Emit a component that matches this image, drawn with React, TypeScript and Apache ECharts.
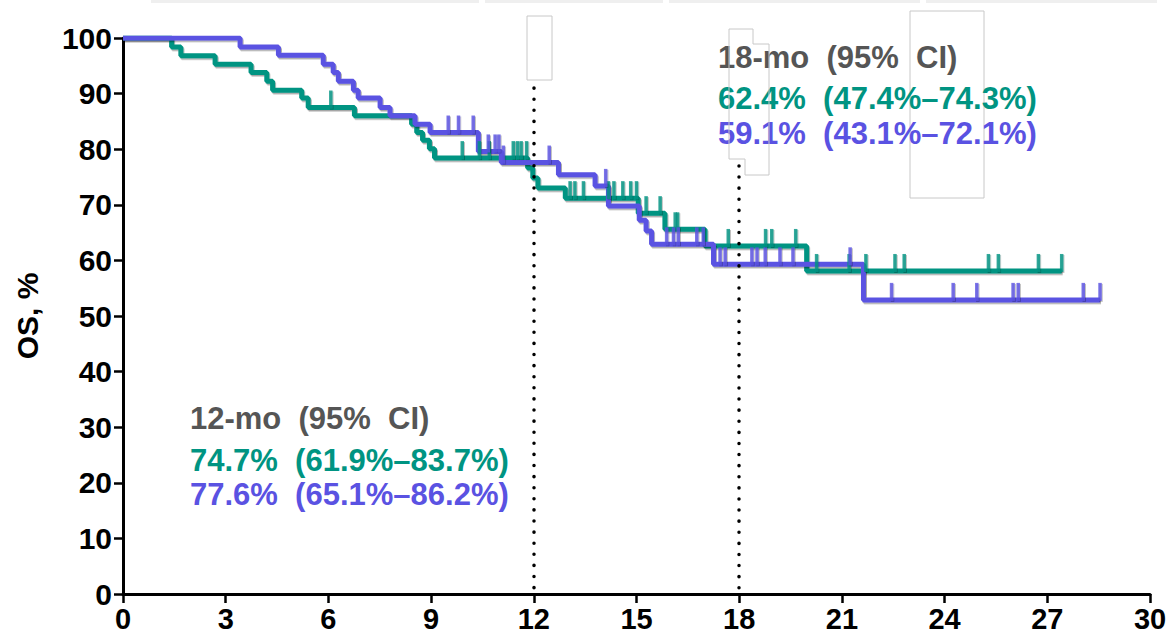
import React, { useEffect, useRef } from "react";
import * as echarts from "echarts";

// Kaplan–Meier steps [month, OS %]
const tealSteps: number[][] = [
  [0, 100], [1.42, 98.4], [1.69, 96.8], [2.69, 95.3], [3.74, 93.8], [4.2, 92.2],
  [4.37, 90.6], [5.22, 89.2], [5.41, 87.5], [6.76, 86.0], [8.43, 84.5], [8.58, 83.0],
  [8.75, 81.6], [8.95, 80.1], [9.1, 78.4], [11.82, 76.6], [11.97, 74.8], [12.12, 73.0],
  [12.92, 71.2], [15.05, 68.5], [15.83, 65.6], [17.0, 62.6], [19.97, 58.1], [27.42, 58.1],
];
const tealCensor: number[] = [
  6.07, 9.91, 10.41, 10.7, 11.4, 11.52, 11.63, 11.79, 13.06, 13.2, 13.45, 14.18, 14.34,
  14.6, 14.83, 15.0, 15.28, 15.69, 16.13, 16.2, 17.68, 18.77, 18.95, 19.65, 20.26, 21.21,
  21.7, 22.55, 22.82, 25.28, 25.57, 26.74, 27.42,
];
const blueSteps: number[][] = [
  [0, 100], [3.42, 98.4], [4.54, 96.9], [5.85, 95.3], [6.14, 93.8], [6.29, 92.2],
  [6.73, 90.6], [6.87, 89.2], [7.51, 87.5], [7.8, 86.0], [8.53, 84.5], [8.97, 83.0],
  [10.38, 79.6], [11.05, 77.6], [12.72, 75.4], [13.79, 73.4], [14.18, 69.8], [15.08, 67.2],
  [15.28, 65.3], [15.44, 62.9], [17.25, 59.3], [21.63, 52.9], [28.54, 52.9],
];
const blueCensor: number[] = [
  9.5, 9.8, 10.23, 10.67, 10.87, 10.98, 11.11, 12.45, 14.1, 15.88, 16.08, 16.22, 16.76,
  16.95, 17.44, 17.59, 18.37, 18.52, 18.76, 19.19, 19.57, 21.24, 22.45, 24.25, 24.94,
  26.0, 26.15, 28.05, 28.54,
];
const xTicks = [0, 30, 3];
const yTicks = [0, 100, 10];
const landmarks = [
  { month: 12, top: 91 },
  { month: 18, top: 77 },
];
const annot12 = ["12-mo  (95%  CI)", "74.7%  (61.9%–83.7%)", "77.6%  (65.1%–86.2%)"];
const annot18 = ["18-mo  (95%  CI)", "62.4%  (47.4%–74.3%)", "59.1%  (43.1%–72.1%)"];

const TEAL = "#009482";
const BLUE = "#5a52e2";
const GRAY = "#555555";
const FONT = "'Liberation Sans', Arial, sans-serif";

function survAt(steps: number[][], t: number): number {
  let v = steps[0][1];
  for (const [x, y] of steps) {
    if (x <= t) v = y;
  }
  return v;
}

export default function App() {
  const ref = useRef<HTMLDivElement>(null);
  useEffect(() => {
    const chart = echarts.init(ref.current!, null, { renderer: "svg" });
    const textBlock = (lines: string[], x: number, ys: number[]) =>
      lines.map((s, i) => ({
        type: "text",
        x,
        y: ys[i],
        style: {
          text: s,
          fill: i === 0 ? GRAY : i === 1 ? TEAL : BLUE,
          font: `bold 31px ${FONT}`,
          textVerticalAlign: "middle",
        },
        z: 10,
      }));
    const censorSeries = (name: string, steps: number[][], cens: number[], color: string) => ({
      type: "scatter",
      name,
      data: cens.map((t) => [t, survAt(steps, t)]),
      symbol: "rect",
      symbolSize: [3.5, 18],
      symbolOffset: [0, -8],
      itemStyle: { color, shadowColor: "rgba(0,0,0,0.3)", shadowOffsetX: 1, shadowOffsetY: 1 },
      z: 4,
      silent: true,
    });
    const lineStyle = (color: string) => ({
      color,
      width: 5,
      shadowColor: "rgba(0,0,0,0.35)",
      shadowOffsetX: 1,
      shadowOffsetY: 1.5,
      shadowBlur: 0,
    });
    chart.setOption({
      animation: false,
      grid: { left: 123, right: 20, top: 38, bottom: 48 },
      xAxis: {
        type: "value",
        min: xTicks[0],
        max: xTicks[1],
        interval: xTicks[2],
        axisLine: { lineStyle: { color: "#000", width: 3 } },
        axisTick: { length: 9, lineStyle: { color: "#000", width: 2.5 } },
        axisLabel: { color: "#000", fontSize: 29, fontWeight: "bold", fontFamily: FONT, margin: 10 },
        splitLine: { show: false },
      },
      yAxis: {
        type: "value",
        min: yTicks[0],
        max: yTicks[1],
        interval: yTicks[2],
        name: "OS, %",
        nameLocation: "middle",
        nameGap: 81,
        nameTextStyle: { color: "#000", fontSize: 30, fontWeight: "bold", fontFamily: FONT },
        axisLine: { show: true, lineStyle: { color: "#000", width: 3 } },
        axisTick: { show: true, length: 9, lineStyle: { color: "#000", width: 2.5 } },
        axisLabel: { color: "#000", fontSize: 30, fontWeight: "bold", fontFamily: FONT, margin: 11 },
        splitLine: { show: false },
      },
      series: [
        {
          type: "line",
          name: "teal",
          data: tealSteps,
          step: "end",
          showSymbol: false,
          lineStyle: lineStyle(TEAL),
          z: 3,
          markLine: {
            silent: true,
            symbol: "none",
            label: { show: false },
            lineStyle: { color: "#000", width: 3.5, type: [0.1, 11], cap: "round", shadowBlur: 0, shadowColor: "transparent" },
            data: landmarks.map((l) => [
              { coord: [l.month, l.top] },
              { coord: [l.month, 0] },
            ]),
          },
        },
        {
          type: "line",
          name: "blue",
          data: blueSteps,
          step: "end",
          showSymbol: false,
          lineStyle: lineStyle(BLUE),
          z: 3,
        },
        censorSeries("tealC", tealSteps, tealCensor, TEAL),
        censorSeries("blueC", blueSteps, blueCensor, BLUE),
      ],
      graphic: [
        { type: "rect", shape: { x: 151, y: 0, width: 328, height: 3 }, style: { fill: "#efefef" } },
        { type: "rect", shape: { x: 485, y: 0, width: 178, height: 3 }, style: { fill: "#efefef" } },
        { type: "rect", shape: { x: 669, y: 0, width: 251, height: 3 }, style: { fill: "#efefef" } },
        { type: "rect", shape: { x: 926, y: 0, width: 231, height: 3 }, style: { fill: "#efefef" } },
        { type: "rect", shape: { x: 527, y: 16, width: 25, height: 64 }, style: { fill: "none", stroke: "#c8c8c8", lineWidth: 1 } },
        {
          type: "polygon",
          shape: { points: [[729, 29], [753, 29], [753, 44], [769, 44], [769, 175], [745, 175], [745, 159], [729, 159]] },
          style: { fill: "none", stroke: "#c8c8c8", lineWidth: 1 },
          z: 11,
        },
        { type: "rect", shape: { x: 910, y: 11, width: 74, height: 187 }, style: { fill: "none", stroke: "#c8c8c8", lineWidth: 1 } },
        ...textBlock(annot12, 190, [418, 460, 494]),
        ...textBlock(annot18, 718, [57, 98, 133]),
      ],
    });
    return () => chart.dispose();
  }, []);
  return (
    <div
      ref={ref}
      style={{ position: "fixed", left: 0, top: 0, width: 1170, height: 642, background: "#fff" }}
    />
  );
}
